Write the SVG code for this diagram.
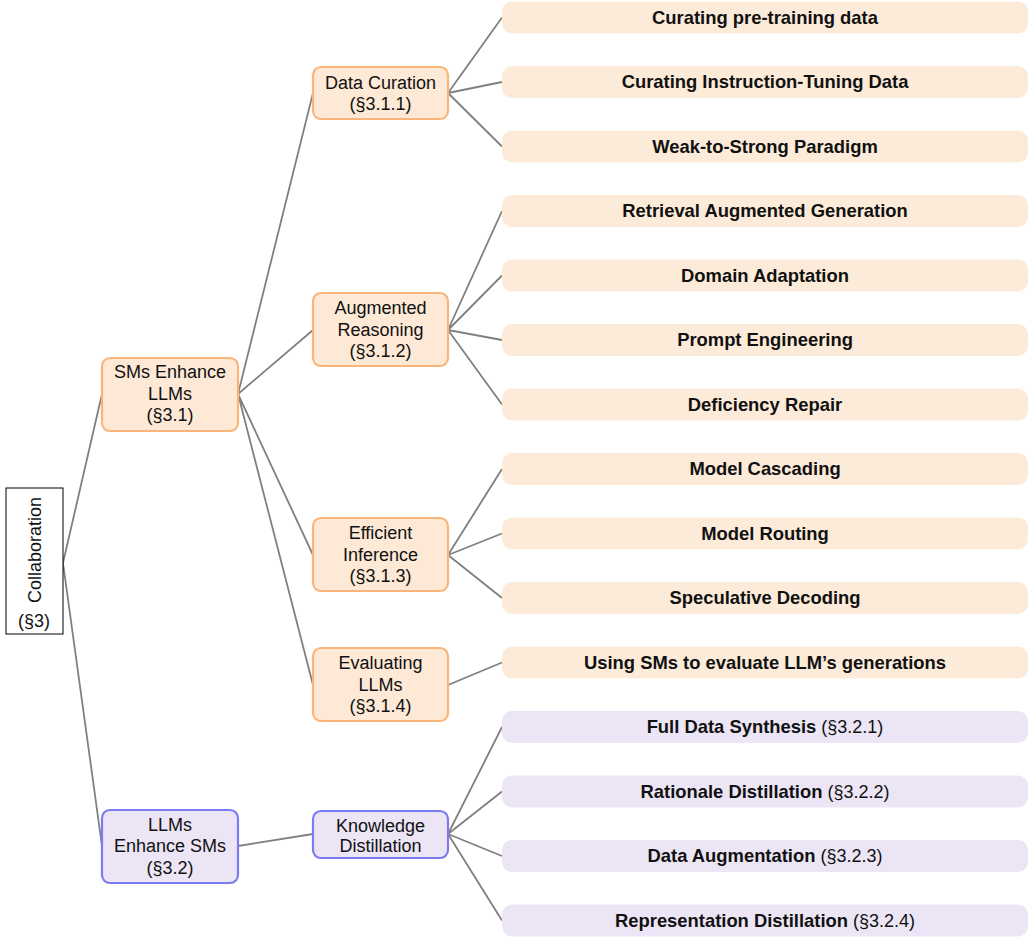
<svg xmlns="http://www.w3.org/2000/svg" width="1034" height="939" viewBox="0 0 1034 939">
<style>
text{font-family:"Liberation Sans",Arial,sans-serif;font-size:18px;fill:#111;text-anchor:middle}
.b{font-weight:bold;font-size:18.4px}
.o{fill:#fde9d6;stroke:#fbb57a;stroke-width:2.2}
.p{fill:#ebe5f6;stroke:#7b7bf2;stroke-width:2.2}
.lo{fill:#fdebd9}
.lp{fill:#ece5f5}
.e{stroke:#808080;stroke-width:1.8;fill:none}
</style>
<g id="connectors">
<path class="e" d="M63 563L102 394M63 563L102 846"/>
<path class="e" d="M238 394L313 93M238 394L313 330M238 394L313 555M238 394L313 685"/>
<path class="e" d="M238 846L313 834"/>
<path class="e" d="M448 93L502 17.5M448 93L502 82M448 93L502 146.5"/>
<path class="e" d="M448 330L502 211M448 330L502 275.5M448 330L502 340M448 330L502 404.5"/>
<path class="e" d="M448 555L502 469M448 555L502 533.5M448 555L502 598"/>
<path class="e" d="M448 685L502 662.5"/>
<path class="e" d="M448 834L502 727M448 834L502 791.5M448 834L502 856M448 834L502 920.5"/>
</g>
<g id="root">
<rect x="6" y="488" width="57" height="146" fill="#fff" stroke="#000" stroke-width="1"/>
<text transform="translate(41 550) rotate(-90)">Collaboration</text>
<text x="34" y="627">(§3)</text>
</g>
<g id="sms-enhance">
<rect class="o" x="102" y="358" width="136" height="73" rx="8"/>
<text x="170" y="378">SMs Enhance</text>
<text x="170" y="399.5">LLMs</text>
<text x="170" y="421">(§3.1)</text>
</g>
<g id="llms-enhance">
<rect class="p" x="102" y="810" width="136" height="73" rx="8"/>
<text x="170" y="831">LLMs</text>
<text x="170" y="852">Enhance SMs</text>
<text x="170" y="873.5">(§3.2)</text>
</g>
<g id="data-curation">
<rect class="o" x="313" y="67" width="135" height="52" rx="8"/>
<text x="380.5" y="88.5">Data Curation</text>
<text x="380.5" y="110">(§3.1.1)</text>
</g>
<g id="augmented-reasoning">
<rect class="o" x="313" y="293" width="135" height="73" rx="8"/>
<text x="380.5" y="314">Augmented</text>
<text x="380.5" y="335.5">Reasoning</text>
<text x="380.5" y="357">(§3.1.2)</text>
</g>
<g id="efficient-inference">
<rect class="o" x="313" y="518" width="135" height="73" rx="8"/>
<text x="380.5" y="539">Efficient</text>
<text x="380.5" y="560.5">Inference</text>
<text x="380.5" y="582">(§3.1.3)</text>
</g>
<g id="evaluating-llms">
<rect class="o" x="313" y="648" width="135" height="73" rx="8"/>
<text x="380.5" y="669">Evaluating</text>
<text x="380.5" y="690.5">LLMs</text>
<text x="380.5" y="712">(§3.1.4)</text>
</g>
<g id="knowledge-distillation">
<rect class="p" x="313" y="811" width="135" height="47" rx="8"/>
<text x="380.5" y="831.5">Knowledge</text>
<text x="380.5" y="852">Distillation</text>
</g>
<g id="leaf1"><rect class="lo" x="502" y="1.5" width="526" height="32" rx="10"/><text class="b" x="765" y="23.5">Curating pre-training data</text></g>
<g id="leaf2"><rect class="lo" x="502" y="66" width="526" height="32" rx="10"/><text class="b" x="765" y="88">Curating Instruction-Tuning Data</text></g>
<g id="leaf3"><rect class="lo" x="502" y="130.5" width="526" height="32" rx="10"/><text class="b" x="765" y="152.5">Weak-to-Strong Paradigm</text></g>
<g id="leaf4"><rect class="lo" x="502" y="195" width="526" height="32" rx="10"/><text class="b" x="765" y="217">Retrieval Augmented Generation</text></g>
<g id="leaf5"><rect class="lo" x="502" y="259.5" width="526" height="32" rx="10"/><text class="b" x="765" y="281.5">Domain Adaptation</text></g>
<g id="leaf6"><rect class="lo" x="502" y="324" width="526" height="32" rx="10"/><text class="b" x="765" y="346">Prompt Engineering</text></g>
<g id="leaf7"><rect class="lo" x="502" y="388.5" width="526" height="32" rx="10"/><text class="b" x="765" y="410.5">Deficiency Repair</text></g>
<g id="leaf8"><rect class="lo" x="502" y="453" width="526" height="32" rx="10"/><text class="b" x="765" y="475">Model Cascading</text></g>
<g id="leaf9"><rect class="lo" x="502" y="517.5" width="526" height="32" rx="10"/><text class="b" x="765" y="539.5">Model Routing</text></g>
<g id="leaf10"><rect class="lo" x="502" y="582" width="526" height="32" rx="10"/><text class="b" x="765" y="604">Speculative Decoding</text></g>
<g id="leaf11"><rect class="lo" x="502" y="646.5" width="526" height="32" rx="10"/><text class="b" x="765" y="668.5">Using SMs to evaluate LLM’s generations</text></g>
<g id="leaf12"><rect class="lp" x="502" y="711" width="526" height="32" rx="10"/><text x="765" y="733"><tspan class="b">Full Data Synthesis</tspan> (§3.2.1)</text></g>
<g id="leaf13"><rect class="lp" x="502" y="775.5" width="526" height="32" rx="10"/><text x="765" y="797.5"><tspan class="b">Rationale Distillation</tspan> (§3.2.2)</text></g>
<g id="leaf14"><rect class="lp" x="502" y="840" width="526" height="32" rx="10"/><text x="765" y="862"><tspan class="b">Data Augmentation</tspan> (§3.2.3)</text></g>
<g id="leaf15"><rect class="lp" x="502" y="904.5" width="526" height="32" rx="10"/><text x="765" y="926.5"><tspan class="b">Representation Distillation</tspan> (§3.2.4)</text></g>
</svg>
